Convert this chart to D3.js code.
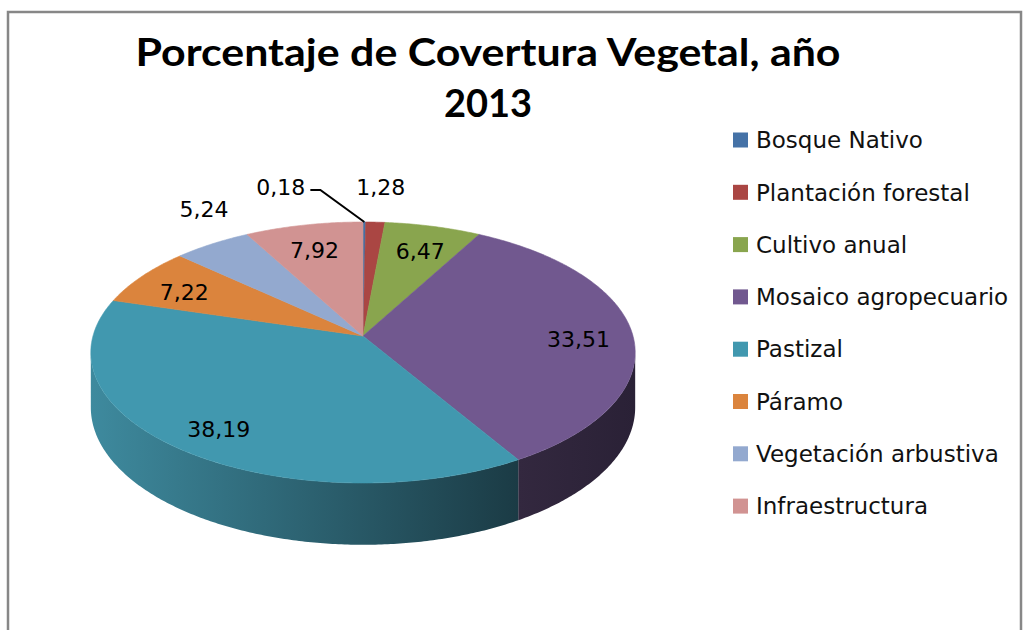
<!DOCTYPE html>
<html>
<head>
<meta charset="utf-8">
<script src="https://cdn.jsdelivr.net/npm/d3@7"></script>
<style>
  body { margin: 0; background: #fff; }
  svg { display: block; }
</style>
</head>
<body>
<div id="chart"></div>
<script>
var categories = ['Bosque Nativo', 'Plantación forestal', 'Cultivo anual', 'Mosaico agropecuario',
                  'Pastizal', 'Páramo', 'Vegetación arbustiva', 'Infraestructura'];
var values = [0.18, 1.28, 6.47, 33.51, 38.19, 7.22, 5.24, 7.92];
var colors = ['#4572A7', '#AA4643', '#89A54E', '#71588F', '#4198AF', '#DB843D', '#93A9CF', '#D19392'];
var sideColors = {
    'Mosaico agropecuario': ['#33283f', '#2a2136'],
    'Pastizal': ['#3e8a9e', '#1b3b45']
};
var titleLines = ['Porcentaje de Covertura Vegetal, año', '2013'];

var width = 1032, height = 630;
var svg = d3.select('#chart').append('svg')
    .attr('width', width)
    .attr('height', height);

// chart frame
svg.append('rect')
    .attr('x', 8).attr('y', 12)
    .attr('width', 1013).attr('height', 640)
    .attr('fill', '#fff')
    .attr('stroke', '#878787')
    .attr('stroke-width', 2.5);

// title
var title = svg.append('g');
title.append('text')
    .attr('x', 488).attr('y', 66)
    .attr('text-anchor', 'middle')
    .attr('textLength', 705)
    .attr('lengthAdjust', 'spacingAndGlyphs')
    .style('font', 'bold 38px Lato, sans-serif')
    .text(titleLines[0]);
title.append('text')
    .attr('x', 488).attr('y', 117)
    .attr('text-anchor', 'middle')
    .style('font', 'bold 38px Lato, sans-serif')
    .text(titleLines[1]);

// perspective pie geometry
var cx = 363, cy = 336,
    A = 270, B = 128.4,      // horizontal / vertical radius factors
    t = 0.1264,              // perspective strength
    H = 54;                  // thickness

function proj(theta, r, down) {
    var u = r*Math.sin(theta), v = -r*Math.cos(theta), w = 1 - t*v;
    return [cx + A*u/w, cy + (B*v + (down ? H : 0))/w];
}

function arcPoints(a0, a1, r, down) {
    var n = Math.max(2, Math.ceil((a1 - a0)/0.01)), pts = [];
    for (var i = 0; i <= n; i++) pts.push(proj(a0 + (a1 - a0)*i/n, r, down));
    return pts;
}

var pie = d3.pie().sort(null).startAngle(0).endAngle(2*Math.PI);
var arcs = pie(values);
var line = d3.line();

var grad = svg.append('defs');
var pieG = svg.append('g');

// visible front side: between the two silhouette angles
var thR = Math.acos(-t), thL = 2*Math.PI - thR;
arcs.forEach(function(d, i) {
    var a0 = Math.max(d.startAngle, thR), a1 = Math.min(d.endAngle, thL);
    if (a1 <= a0) return;
    var top = arcPoints(a0, a1, 1, false),
        bot = arcPoints(a0, a1, 1, true).reverse();
    var sc = sideColors[categories[i]] || [colors[i], colors[i]];
    var id = 'side' + i;
    var lg = grad.append('linearGradient')
        .attr('id', id)
        .attr('gradientUnits', 'userSpaceOnUse')
        .attr('x1', d3.min(top, function(p) { return p[0]; }))
        .attr('x2', d3.max(top, function(p) { return p[0]; }))
        .attr('y1', 0).attr('y2', 0);
    lg.append('stop').attr('offset', 0).attr('stop-color', sc[0]);
    lg.append('stop').attr('offset', 1).attr('stop-color', sc[1]);
    pieG.append('path')
        .attr('d', line(top.concat(bot)) + 'Z')
        .attr('fill', 'url(#' + id + ')');
});

// top faces
arcs.forEach(function(d, i) {
    var pts = [proj(0, 0, false)].concat(arcPoints(d.startAngle, d.endAngle, 1, false));
    pieG.append('path')
        .attr('d', line(pts) + 'Z')
        .attr('fill', colors[i])
        .attr('stroke', colors[i])
        .attr('stroke-width', 0.6);
});

// data labels
var fmt = d3.formatLocale({decimal: ',', thousands: '.', grouping: [3], currency: ['', '']}).format('.2f');
var labelG = svg.append('g').style('font', '22px "DejaVu Sans", sans-serif').attr('fill', '#000');
arcs.forEach(function(d, i) {
    var mid = (d.startAngle + d.endAngle)/2, x, y, anchor = 'middle';
    if (d.value > 6) {
        var p = proj(mid, 0.8, false);
        x = p[0]; y = p[1] + 5;
    } else {
        var e = proj(mid, 1, false),
            dx = e[0] - cx, dy = e[1] - cy, len = Math.sqrt(dx*dx + dy*dy);
        x = e[0] + dx/len*14 + 4; y = e[1] - 35;
        // too close to the next small label: move left with a leader line
        var next = arcs[i+1];
        if (next && next.value <= 6) {
            var ne = proj((next.startAngle + next.endAngle)/2, 1, false);
            if (Math.abs(ne[0] - e[0]) < 40) {
                anchor = 'end';
                x = e[0] - 59;
                labelG.append('path')
                    .attr('d', line([[e[0] - 54, y + 3], [e[0] - 44, y + 3], e]))
                    .attr('fill', 'none')
                    .attr('stroke', '#000')
                    .attr('stroke-width', 2);
            }
        }
    }
    labelG.append('text')
        .attr('x', x).attr('y', y)
        .attr('dy', '0.35em')
        .attr('text-anchor', anchor)
        .text(fmt(d.value));
});

// legend
var legend = svg.append('g').selectAll('.legend')
    .data(categories)
    .enter()
    .append('g')
    .attr('class', 'legend')
    .attr('transform', function(d, i) { return 'translate(733,' + (140 + i*52.3) + ')'; });

legend.append('rect')
    .attr('y', -7.5)
    .attr('width', 15).attr('height', 15)
    .attr('fill', function(d, i) { return colors[i]; });

legend.append('text')
    .attr('x', 23)
    .attr('dy', '0.36em')
    .style('font', '23px "DejaVu Sans", sans-serif')
    .attr('fill', '#111')
    .text(function(d) { return d; });
</script>
</body>
</html>
